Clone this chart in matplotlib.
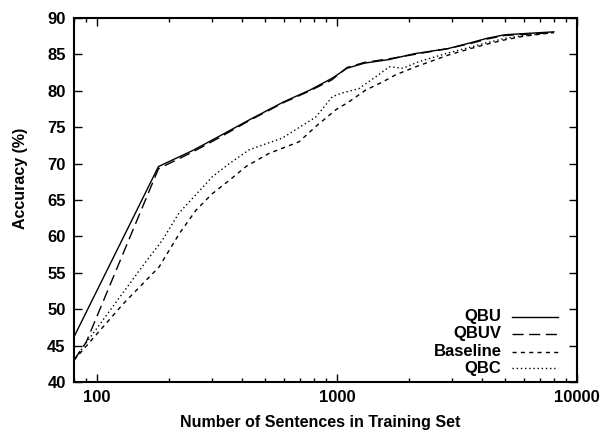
import matplotlib
matplotlib.use('Agg')
import matplotlib.pyplot as plt
from matplotlib.ticker import LogLocator, NullFormatter, FixedLocator

plt.rcParams['font.family'] = ['Liberation Sans', 'DejaVu Sans']
plt.rcParams['font.weight'] = 'bold'
plt.rcParams['font.size'] = 12

# data
qbu_x = [80, 180, 250, 320, 430, 600, 770, 950, 1100, 1300, 1650, 2100, 2900, 3600, 4200, 5000, 8000]
qbu_y = [46.2, 69.6, 71.8, 73.7, 76.0, 78.5, 80.1, 81.7, 83.1, 83.8, 84.3, 85.1, 85.8, 86.6, 87.2, 87.7, 88.1]

qbuv_x = [80, 90, 180, 250, 320, 430, 600, 770, 950, 1100, 1300, 1650, 2100, 2900, 3600, 4200, 5000, 8000]
qbuv_y = [43.0, 45.5, 69.3, 71.6, 73.5, 75.9, 78.4, 80.0, 81.5, 83.2, 83.9, 84.4, 85.0, 85.8, 86.5, 87.1, 87.6, 88.0]

base_x = [80, 128, 181, 220, 258, 300, 355, 417, 520, 590, 694, 815, 988, 1122, 1315, 1544, 1754, 2127,
          2900, 3600, 4200, 5000, 6000, 8000]
base_y = [43.0, 50.7, 55.8, 60.4, 63.6, 65.8, 67.7, 69.6, 71.4, 72.1, 73.0, 75.1, 77.4, 78.5, 80.1, 81.2, 82.2, 83.3,
          84.9, 85.8, 86.4, 87.0, 87.5, 88.0]

qbc_x = [80, 87.5, 152, 187, 219, 302, 355, 430, 590, 815, 956, 1050, 1232, 1445, 1650, 1880, 2190,
         2900, 3600, 4200, 5000, 6000, 8000]
qbc_y = [43.0, 44.85, 55.6, 59.5, 63.2, 68.2, 70.0, 71.9, 73.5, 76.4, 79.2, 79.7, 80.3, 81.9, 83.3, 83.1, 84.0,
         85.2, 86.0, 86.6, 87.2, 87.6, 88.0]

labels = ['QBU', 'QBUV', 'Baseline', 'QBC']
styles = ['-', (0, (8, 4)), (0, (3, 3)), (0, (1, 2))]

fig = plt.figure(figsize=(6.04, 4.32), dpi=100)
ax = fig.add_axes([0.1225, 0.1157, 0.8328, 0.8426])

series = [(qbu_x, qbu_y), (qbuv_x, qbuv_y), (base_x, base_y), (qbc_x, qbc_y)]
for (xs, ys), ls in zip(series, styles):
    ax.plot(xs, ys, color='black', lw=1.0, linestyle=ls)

ax.set_xscale('log')
ax.set_xlim(80, 10000)
ax.set_ylim(40, 90)
ax.xaxis.set_major_locator(FixedLocator([100, 1000, 10000]))
ax.xaxis.set_minor_locator(LogLocator(base=10, subs=range(2, 10)))
ax.xaxis.set_minor_formatter(NullFormatter())
ax.set_xticklabels(['100', '1000', '10000'])
ax.set_yticks(range(40, 91, 5))

ax.tick_params(which='both', direction='in', top=True, right=True, width=1.0)
ax.tick_params(which='major', length=6, pad=6)
ax.tick_params(which='minor', length=3)
for sp in ax.spines.values():
    sp.set_linewidth(1.5)

ax.set_xlabel('Number of Sentences in Training Set', fontweight='bold', fontsize=11.5)
ax.set_ylabel('Accuracy (%)', fontweight='bold', fontsize=11.5)
ax.xaxis.set_label_coords(0.489, -0.110)
ax.xaxis.label.set_va('center')
ax.yaxis.set_label_coords(-0.107, 0.560)
ax.yaxis.label.set_va('center')

# key, gnuplot style: label right-aligned, sample to its right
rows = [0.179, 0.132, 0.083, 0.038]
for lab, ls, ry in zip(labels, styles, rows):
    ax.text(0.850, ry, lab, transform=ax.transAxes, ha='right', va='center', fontweight='bold')
    ax.plot([0.871, 0.962], [ry, ry], transform=ax.transAxes, color='black', lw=1.0, linestyle=ls)

fig.savefig('out.png', dpi=100)
